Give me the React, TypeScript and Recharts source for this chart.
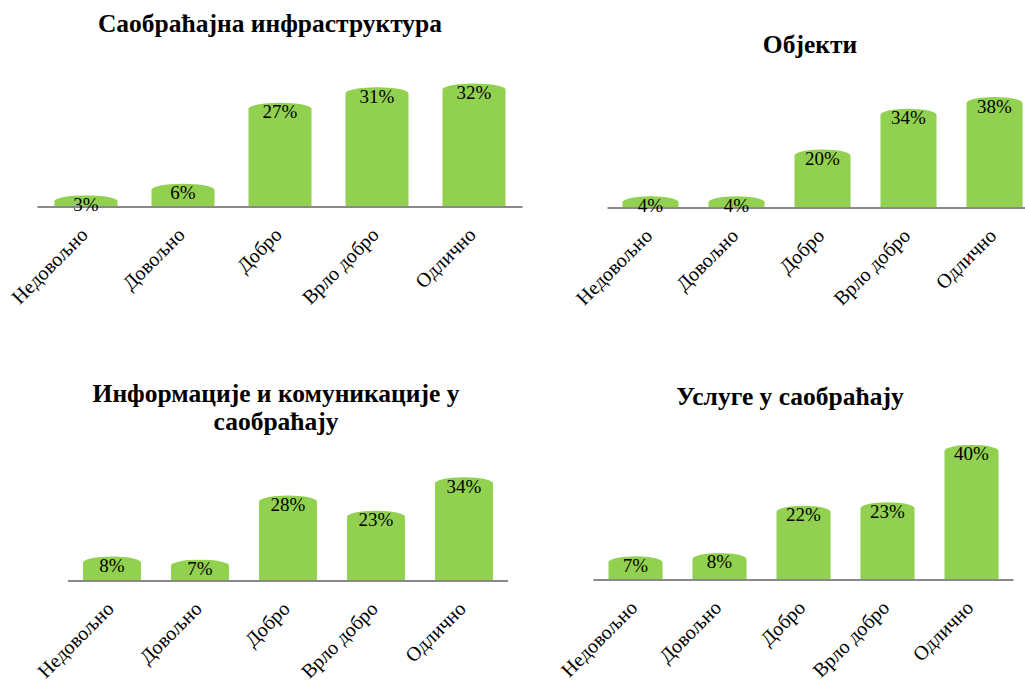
import { Bar, BarChart, LabelList, XAxis, YAxis } from 'recharts'

const categories = ['Недовољно', 'Довољно', 'Добро', 'Врло добро', 'Одлично']

const infraValues = [3, 6, 27, 31, 32]
const objectValues = [4, 4, 20, 34, 38]
const infoValues = [8, 7, 28, 23, 34]
const serviceValues = [7, 8, 22, 23, 40]

const toRows = (values: number[]) =>
  categories.map((name, i) => ({ name, value: values[i] }))

const GREEN = '#92d050'
const FONT = '"Liberation Serif", "Times New Roman", serif'

// bar with a rounded (elliptic) cap, like the Excel cylinder-ish look
const CappedBar = (props: any) => {
  const { x, y, width, height, fill } = props
  if (!height || height <= 0) return null
  const cap = Math.min(6, height / 2)
  const d = `M${x},${y + cap} A${width / 2},${cap} 0 0 1 ${x + width},${y + cap} L${x + width},${y + height} L${x},${y + height} Z`
  return <path d={d} fill={fill} />
}

const ValueLabel = (props: any) => {
  const { x, y, width, value } = props
  return (
    <text
      x={x + width / 2}
      y={y + 9}
      textAnchor="middle"
      dominantBaseline="central"
      fontFamily={FONT}
      fontSize={19}
      fill="#000"
    >
      {value}%
    </text>
  )
}

const SlantTick = (props: any) => {
  const { x, y, payload } = props
  const tx = x + 3
  const ty = y + 29
  return (
    <text
      x={tx}
      y={ty}
      transform={`rotate(-45 ${tx} ${ty})`}
      textAnchor="end"
      fontFamily={FONT}
      fontSize={20}
      fill="#000"
    >
      {payload.value}
    </text>
  )
}

interface PanelProps {
  values: number[]
  left: number
  top: number
  width: number
  height: number
  margin: { top: number; right: number; bottom: number; left: number }
  axisHeight: number
  yMax: number
  barSize: number
}

const Panel = ({ values, left, top, width, height, margin, axisHeight, yMax, barSize }: PanelProps) => (
  <div style={{ position: 'absolute', left, top, width, height }}>
    <BarChart width={width} height={height} data={toRows(values)} margin={margin}>
      <XAxis
        dataKey="name"
        height={axisHeight}
        interval={0}
        tickLine={false}
        tickSize={0}
        tickMargin={0}
        axisLine={{ stroke: '#898989', strokeWidth: 2 }}
        tick={<SlantTick />}
      />
      <YAxis hide domain={[0, yMax]} />
      <Bar dataKey="value" fill={GREEN} barSize={barSize} shape={<CappedBar />} isAnimationActive={false}>
        <LabelList dataKey="value" content={<ValueLabel />} />
      </Bar>
    </BarChart>
  </div>
)

const titleStyle = { fontFamily: FONT, fontWeight: 700, fontSize: 25.5, fill: '#000' }

export default function App() {
  return (
    <div style={{ position: 'absolute', left: 0, top: 0, width: 1025, height: 680, overflow: 'hidden', background: '#fff' }}>
      <Panel
        values={infraValues}
        left={0}
        top={0}
        width={540}
        height={320}
        margin={{ top: 52.6, right: 17.5, bottom: 0, left: 37.5 }}
        axisHeight={113}
        yMax={40}
        barSize={63}
      />
      <Panel
        values={objectValues}
        left={560}
        top={0}
        width={480}
        height={320}
        margin={{ top: 91.2, right: 2.5, bottom: 0, left: 47.5 }}
        axisHeight={112}
        yMax={40}
        barSize={56}
      />
      <Panel
        values={infoValues}
        left={0}
        top={340}
        width={540}
        height={340}
        margin={{ top: 119, right: 32, bottom: 0, left: 68 }}
        axisHeight={99}
        yMax={40}
        barSize={58}
      />
      <Panel
        values={serviceValues}
        left={560}
        top={340}
        width={480}
        height={340}
        margin={{ top: 88, right: 26.5, bottom: 0, left: 33.5 }}
        axisHeight={100}
        yMax={45}
        barSize={54}
      />
      <svg width={1025} height={680} style={{ position: 'absolute', left: 0, top: 0, pointerEvents: 'none' }}>
        <text x={270} y={32} textAnchor="middle" style={titleStyle}>
          Саобраћајна  инфраструктура
        </text>
        <text x={810} y={53} textAnchor="middle" style={titleStyle}>
          Објекти
        </text>
        <text x={276} y={402} textAnchor="middle" style={titleStyle}>
          Информације и комуникације у
        </text>
        <text x={276} y={430} textAnchor="middle" style={titleStyle}>
          саобраћају
        </text>
        <text x={790} y={405} textAnchor="middle" style={titleStyle}>
          Услуге у саобраћају
        </text>
      </svg>
    </div>
  )
}
